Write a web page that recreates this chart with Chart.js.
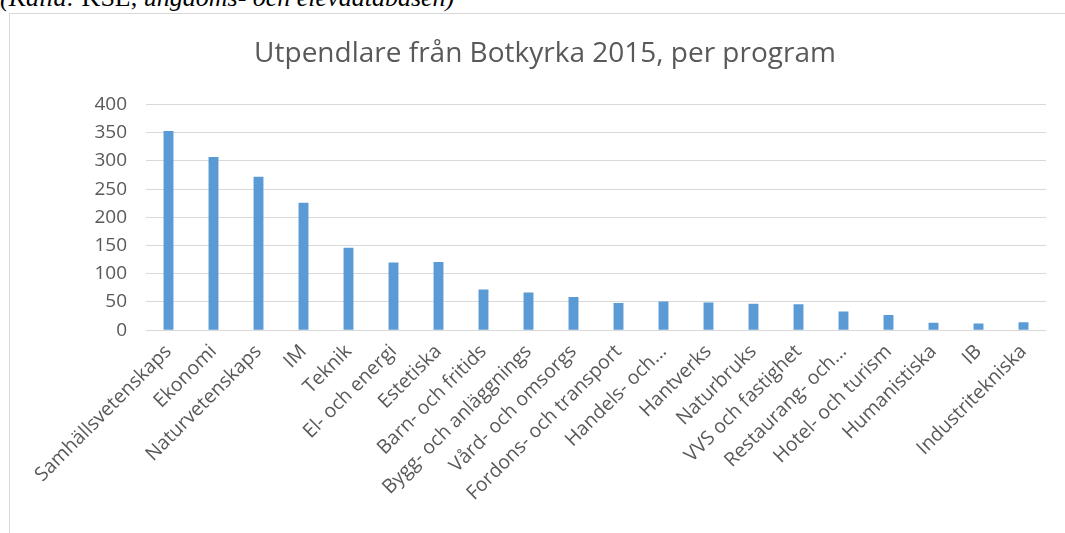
<!DOCTYPE html>
<html>
<head>
<meta charset="utf-8">
<script src="https://cdn.jsdelivr.net/npm/chart.js@4"></script>
<style>
  html, body { margin: 0; padding: 0; background: #fff; overflow: hidden; width: 1065px; height: 533px; }
  #source { position: absolute; left: 0; top: -15px; font: 26px "Liberation Serif", serif; line-height: 26px; white-space: nowrap; color: #000; }
  #frame { position: absolute; left: 9px; top: 13px; width: 1100px; height: 600px; border-left: 1px solid #d9d9d9; border-top: 1px solid #d9d9d9; }
  #wrap { position: absolute; left: 10px; top: 14px; width: 1070px; height: 519px; }
</style>
</head>
<body>
<div id="source"><i>(Källa:</i> KSL, <i>ungdoms- och elevdatabasen)</i></div>
<div id="frame"></div>
<div id="wrap"><canvas id="chart"></canvas></div>
<script>
const programs = [
  'Samhällsvetenskaps', 'Ekonomi', 'Naturvetenskaps', 'IM', 'Teknik',
  'El- och energi', 'Estetiska', 'Barn- och fritids', 'Bygg- och anläggnings',
  'Vård- och omsorgs', 'Fordons- och transport', 'Handels- och...', 'Hantverks',
  'Naturbruks', 'VVS och fastighet', 'Restaurang- och...', 'Hotel- och turism',
  'Humanistiska', 'IB', 'Industritekniska'
];
const commuters = [353, 307, 272, 226, 146, 120, 121, 72, 67, 59, 48, 51, 49, 47, 46, 33, 27, 13, 12, 14];
const yTicks = [0, 50, 100, 150, 200, 250, 300, 350, 400];

const textColor = '#595959';
const gridColor = '#d9d9d9';

new Chart(document.getElementById('chart').getContext('2d'), {
  type: 'bar',
  data: {
    labels: programs,
    datasets: [{
      label: 'Utpendlare',
      data: commuters,
      backgroundColor: '#5b9bd5',
      barPercentage: 0.22,
      categoryPercentage: 1
    }]
  },
  options: {
    responsive: true,
    maintainAspectRatio: false,
    animation: false,
    layout: { padding: { left: 34, right: 34, top: 0, bottom: 26 } },
    plugins: {
      legend: { display: false },
      tooltip: { enabled: false },
      title: {
        display: true,
        text: 'Utpendlare från Botkyrka 2015, per program',
        color: textColor,
        font: { family: '"Open Sans", sans-serif', size: 28, weight: 'normal' },
        padding: { top: 23, bottom: 34 }
      }
    },
    scales: {
      x: {
        grid: { display: false },
        border: { display: false },
        ticks: {
          color: textColor,
          font: { family: '"Open Sans", sans-serif', size: 19.5 },
          minRotation: 45,
          maxRotation: 45,
          autoSkip: false,
          padding: 2
        }
      },
      y: {
        min: 0,
        max: 400,
        afterBuildTicks: axis => { axis.ticks = yTicks.map(v => ({ value: v })); },
        afterFit: axis => { axis.width = 102; },
        grid: { color: gridColor, lineWidth: 1, drawTicks: false },
        border: { display: false },
        ticks: {
          color: textColor,
          font: { family: '"Open Sans", sans-serif', size: 19 },
          padding: 19
        }
      }
    }
  }
});
</script>
</body>
</html>
